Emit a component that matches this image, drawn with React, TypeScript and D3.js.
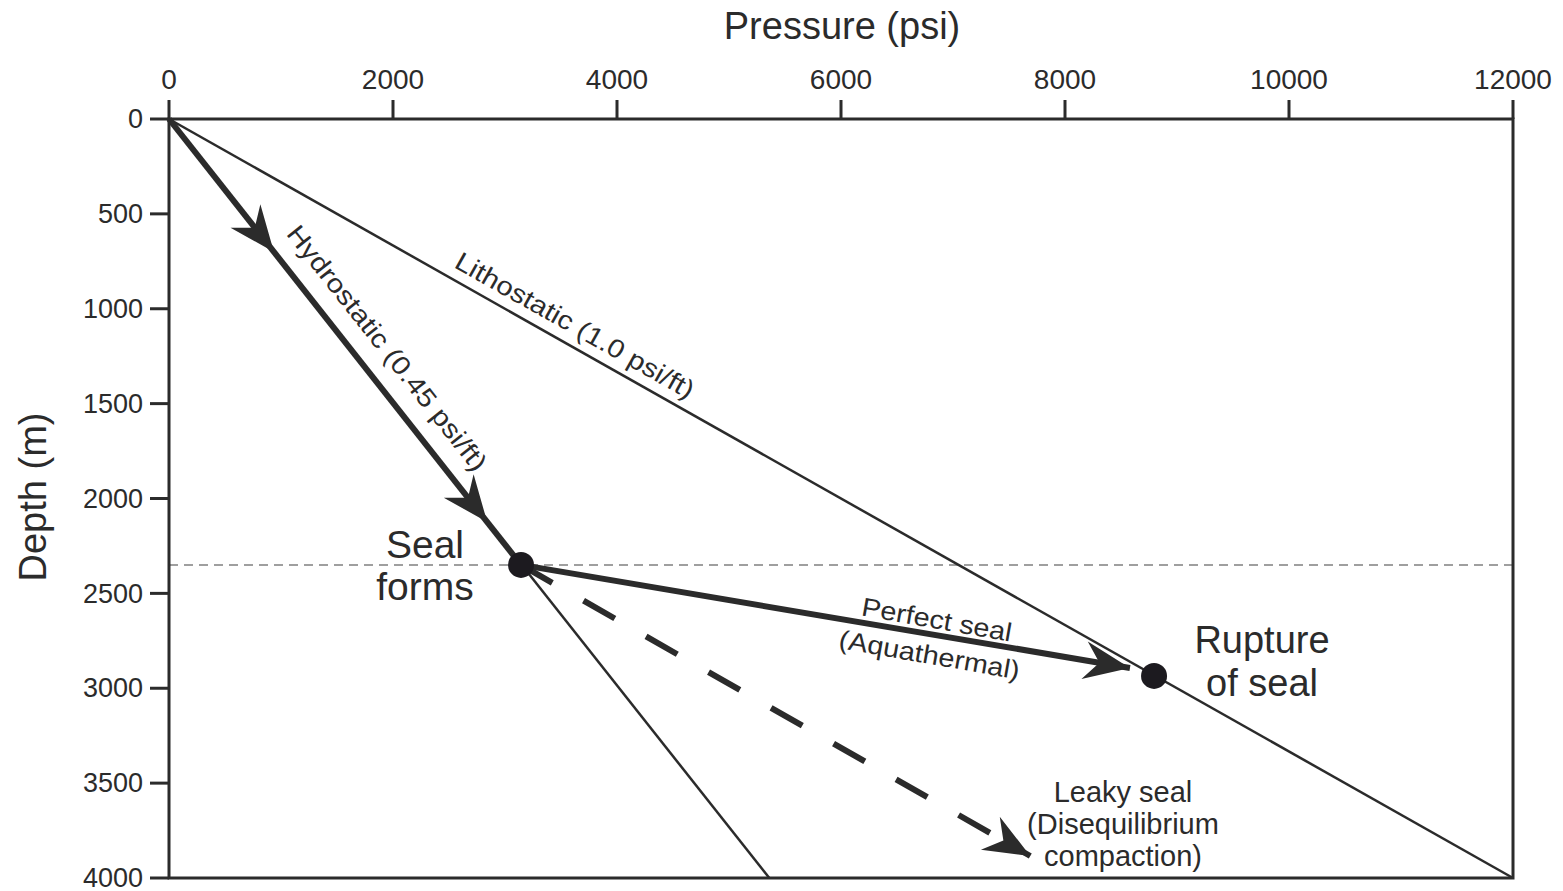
import React, { useEffect, useRef } from 'react'
import * as d3 from 'd3'

// axis ticks
const pressureTicks = [0, 2000, 4000, 6000, 8000, 10000, 12000]
const depthTicks = [0, 500, 1000, 1500, 2000, 2500, 3000, 3500, 4000]

// gradient lines: [pressure, depth]
const lithostatic = [[0, 0], [12000, 4000]]
const hydrostatic = [[0, 0], [5360, 4000]]
const hydroPath = [[0, 0], [3143, 2350]]
const perfectSeal = [[3143, 2350], [8580, 2893]]
const leakySeal = [[3143, 2350], [7690, 3884]]

const sealDepth = 2350
const sealPoint = [3143, 2350]
const rupturePoint = [8795, 2935]

// arrowheads: [tipPressure, tipDepth, fromPressure, fromDepth]
const arrows = [
  [937, 701, 0, 0],
  [2841, 2124, 0, 0],
  [8580, 2893, 3143, 2350],
  [7690, 3884, 3143, 2350],
]

const INK = '#2b2b2b'
const FONT = '"Liberation Sans", Arial, sans-serif'

export default function App() {
  const ref = useRef(null)

  useEffect(() => {
    document.body.style.margin = '0'
    const svg = d3.select(ref.current)
    svg.selectAll('*').remove()

    const x = d3.scaleLinear().domain([0, 12000]).range([169, 1513])
    const y = d3.scaleLinear().domain([0, 4000]).range([119, 878])

    const line = d3.line().x((d) => x(d[0])).y((d) => y(d[1]))

    // dashed seal level
    svg.append('line')
      .attr('x1', x(0)).attr('x2', x(12000))
      .attr('y1', y(sealDepth)).attr('y2', y(sealDepth))
      .attr('stroke', '#808080').attr('stroke-width', 1.5)
      .attr('stroke-dasharray', '9,6')

    // thin lines
    svg.append('path').attr('d', line(lithostatic))
      .attr('stroke', INK).attr('stroke-width', 2.5).attr('fill', 'none')
    svg.append('path').attr('d', line(hydrostatic))
      .attr('stroke', INK).attr('stroke-width', 2.5).attr('fill', 'none')

    // thick paths
    svg.append('path').attr('d', line(hydroPath))
      .attr('stroke', INK).attr('stroke-width', 6).attr('fill', 'none')
    svg.append('path').attr('d', line(perfectSeal))
      .attr('stroke', INK).attr('stroke-width', 6).attr('fill', 'none')
    svg.append('path').attr('d', line(leakySeal))
      .attr('stroke', INK).attr('stroke-width', 6).attr('fill', 'none')
      .attr('stroke-dasharray', '36,36').attr('stroke-dashoffset', 0)

    // arrowheads
    arrows.forEach(([tp, td, fp, fd]) => {
      const tx = x(tp), ty = y(td)
      const ang = Math.atan2(ty - y(fd), tx - x(fp))
      const len = 46, half = 19, notch = 31
      const c = Math.cos(ang), s = Math.sin(ang)
      const pt = (a, b) => [tx - a * c + b * s, ty - a * s - b * c]
      const pts = [[0, 0], [len, half], [notch, 0], [len, -half]].map(([a, b]) => pt(a, b))
      svg.append('path')
        .attr('d', 'M' + pts.map((p) => p.join(',')).join('L') + 'Z')
        .attr('fill', INK)
    })

    // points
    ;[sealPoint, rupturePoint].forEach((p) => {
      svg.append('circle').attr('cx', x(p[0])).attr('cy', y(p[1])).attr('r', 13)
        .attr('fill', '#1c1a1f')
    })

    // frame
    svg.append('rect')
      .attr('x', x(0)).attr('y', y(0))
      .attr('width', x(12000) - x(0)).attr('height', y(4000) - y(0))
      .attr('fill', 'none').attr('stroke', INK).attr('stroke-width', 3)

    // top axis
    const top = svg.append('g')
    pressureTicks.forEach((t) => {
      top.append('line').attr('x1', x(t)).attr('x2', x(t)).attr('y1', 100).attr('y2', y(0))
        .attr('stroke', INK).attr('stroke-width', 3)
      top.append('text').attr('x', x(t)).attr('y', 89).attr('text-anchor', 'middle')
        .attr('font-size', 28).attr('fill', INK).attr('font-family', FONT).text(t)
    })

    // left axis
    const left = svg.append('g')
    depthTicks.forEach((t) => {
      left.append('line').attr('x1', 150).attr('x2', x(0)).attr('y1', y(t)).attr('y2', y(t))
        .attr('stroke', INK).attr('stroke-width', 3)
      left.append('text').attr('x', 143).attr('y', y(t)).attr('dy', '0.34em')
        .attr('text-anchor', 'end')
        .attr('font-size', 27).attr('fill', INK).attr('font-family', FONT).text(t)
    })

    // axis titles
    svg.append('text').attr('x', 842).attr('y', 39).attr('text-anchor', 'middle')
      .attr('font-size', 38).attr('fill', INK).attr('font-family', FONT).text('Pressure (psi)')
    svg.append('text').attr('transform', 'translate(46,497) rotate(-90)').attr('text-anchor', 'middle')
      .attr('font-size', 38).attr('fill', INK).attr('font-family', FONT).text('Depth (m)')

    // rotated labels along lines
    const along = (seg, t, off, txt, size, len) => {
      const [a, b] = seg
      const x1 = x(a[0]), y1 = y(a[1]), x2 = x(b[0]), y2 = y(b[1])
      const ang = Math.atan2(y2 - y1, x2 - x1) * 180 / Math.PI
      const px = x1 + (x2 - x1) * t, py = y1 + (y2 - y1) * t
      svg.append('text')
        .attr('transform', `translate(${px},${py}) rotate(${ang})`)
        .attr('y', off).attr('text-anchor', 'middle')
        .attr('textLength', len).attr('lengthAdjust', 'spacingAndGlyphs')
        .attr('font-size', size).attr('fill', INK).attr('font-family', FONT).text(txt)
    }
    const sealToRupture = [sealPoint, rupturePoint]
    along(hydrostatic, 0.3255, -20, 'Hydrostatic (0.45 psi/ft)', 26, 305)
    along(lithostatic, 0.2947, -11, 'Lithostatic (1.0 psi/ft)', 26, 270)
    along(sealToRupture, 0.652, -9, 'Perfect seal', 26, 152)
    along(sealToRupture, 0.65, 27, '(Aquathermal)', 26, 183)

    // plain labels
    const label = (lines, cx, cy, size, gap) => {
      const t = svg.append('text').attr('text-anchor', 'middle')
        .attr('font-size', size).attr('fill', INK).attr('font-family', FONT)
      lines.forEach((l, i) => {
        t.append('tspan').attr('x', cx).attr('y', cy + i * gap).text(l)
      })
    }
    label(['Seal', 'forms'], 425, 558, 39, 42)
    label(['Rupture', 'of seal'], 1262, 653, 38, 43)
    label(['Leaky seal', '(Disequilibrium', 'compaction)'], 1123, 802, 29, 32)
  }, [])

  return <svg ref={ref} width={1563} height={891} style={{ display: 'block' }} />
}
